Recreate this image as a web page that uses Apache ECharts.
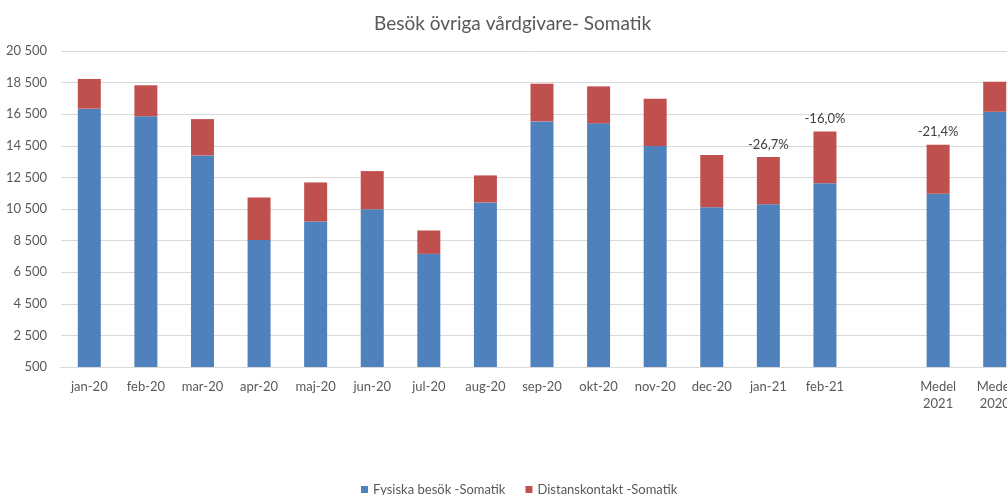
<!DOCTYPE html>
<html>
<head>
<meta charset="utf-8">
<script src="https://cdn.jsdelivr.net/npm/echarts@6/dist/echarts.min.js"></script>
<style>
html,body{margin:0;padding:0;background:#fff;}
#chart{width:1007px;height:495px;}
</style>
</head>
<body>
<div id="chart"></div>
<script>
var categories = ['jan-20','feb-20','mar-20','apr-20','maj-20','jun-20','jul-20','aug-20','sep-20','okt-20','nov-20','dec-20','jan-21','feb-21','','Medel\n2021','Medel\n2020'];
var fysiska = [16850,16370,13890,8545,9710,10490,7660,10915,16045,15920,14480,10615,10807,12137,null,11460,16654];
var totals  = [18730,18330,16190,11230,12180,12900,9140,12625,18430,18260,17480,13910,13785,15410,null,14564,18555];
var pctLabels = ['','','','','','','','','','','','','-26,7%','-16,0%','','-21,4%',''];
var yTicks = {min:500, max:20500, interval:2000};

var distans = totals.map(function(t,i){ return t==null ? null : t - fysiska[i]; });

var font = 'Lato, "Open Sans", sans-serif';
var chart = echarts.init(document.getElementById('chart'), null, {renderer:'canvas'});
chart.setOption({
  animation:false,
  backgroundColor:'#ffffff',
  textStyle:{fontFamily:font},
  title:{
    text:'Besök övriga vårdgivare- Somatik',
    left:369, top:9,
    textStyle:{fontFamily:font, fontSize:19, fontWeight:'normal', color:'#595959'}
  },
  legend:{
    bottom:-6, left:356,
    itemWidth:7, itemHeight:7, itemGap:20,
    icon:'rect',
    textStyle:{fontFamily:font, fontSize:13, color:'#595959'},
    data:['Fysiska besök -Somatik','Distanskontakt -Somatik']
  },
  grid:{left:61, top:51, width:962, height:316, containLabel:false, outerBoundsMode:'none'},
  xAxis:{
    type:'category',
    data:categories,
    axisLine:{show:true, lineStyle:{color:'#d9d9d9'}},
    axisTick:{show:false},
    axisLabel:{color:'#595959', fontSize:13, fontFamily:font, margin:11, interval:0, lineHeight:17}
  },
  yAxis:{
    type:'value',
    min:yTicks.min, max:yTicks.max, interval:yTicks.interval,
    axisLine:{show:false}, axisTick:{show:false},
    splitLine:{lineStyle:{color:'#d9d9d9'}},
    axisLabel:{color:'#595959', fontSize:13, fontFamily:font, margin:14,
      formatter:function(v){ return String(v).replace(/\B(?=(\d{3})+(?!\d))/g,' '); }}
  },
  series:[
    {name:'Fysiska besök -Somatik', type:'bar', stack:'a', barWidth:23,
     itemStyle:{color:'#4f81bd'}, data:fysiska},
    {name:'Distanskontakt -Somatik', type:'bar', stack:'a', barWidth:23,
     itemStyle:{color:'#c0504d'}, data:distans,
     label:{show:true, position:'top', distance:6, color:'#404040', fontSize:13, fontFamily:font,
       formatter:function(p){ return pctLabels[p.dataIndex]; }}}
  ]
});
</script>
</body>
</html>
